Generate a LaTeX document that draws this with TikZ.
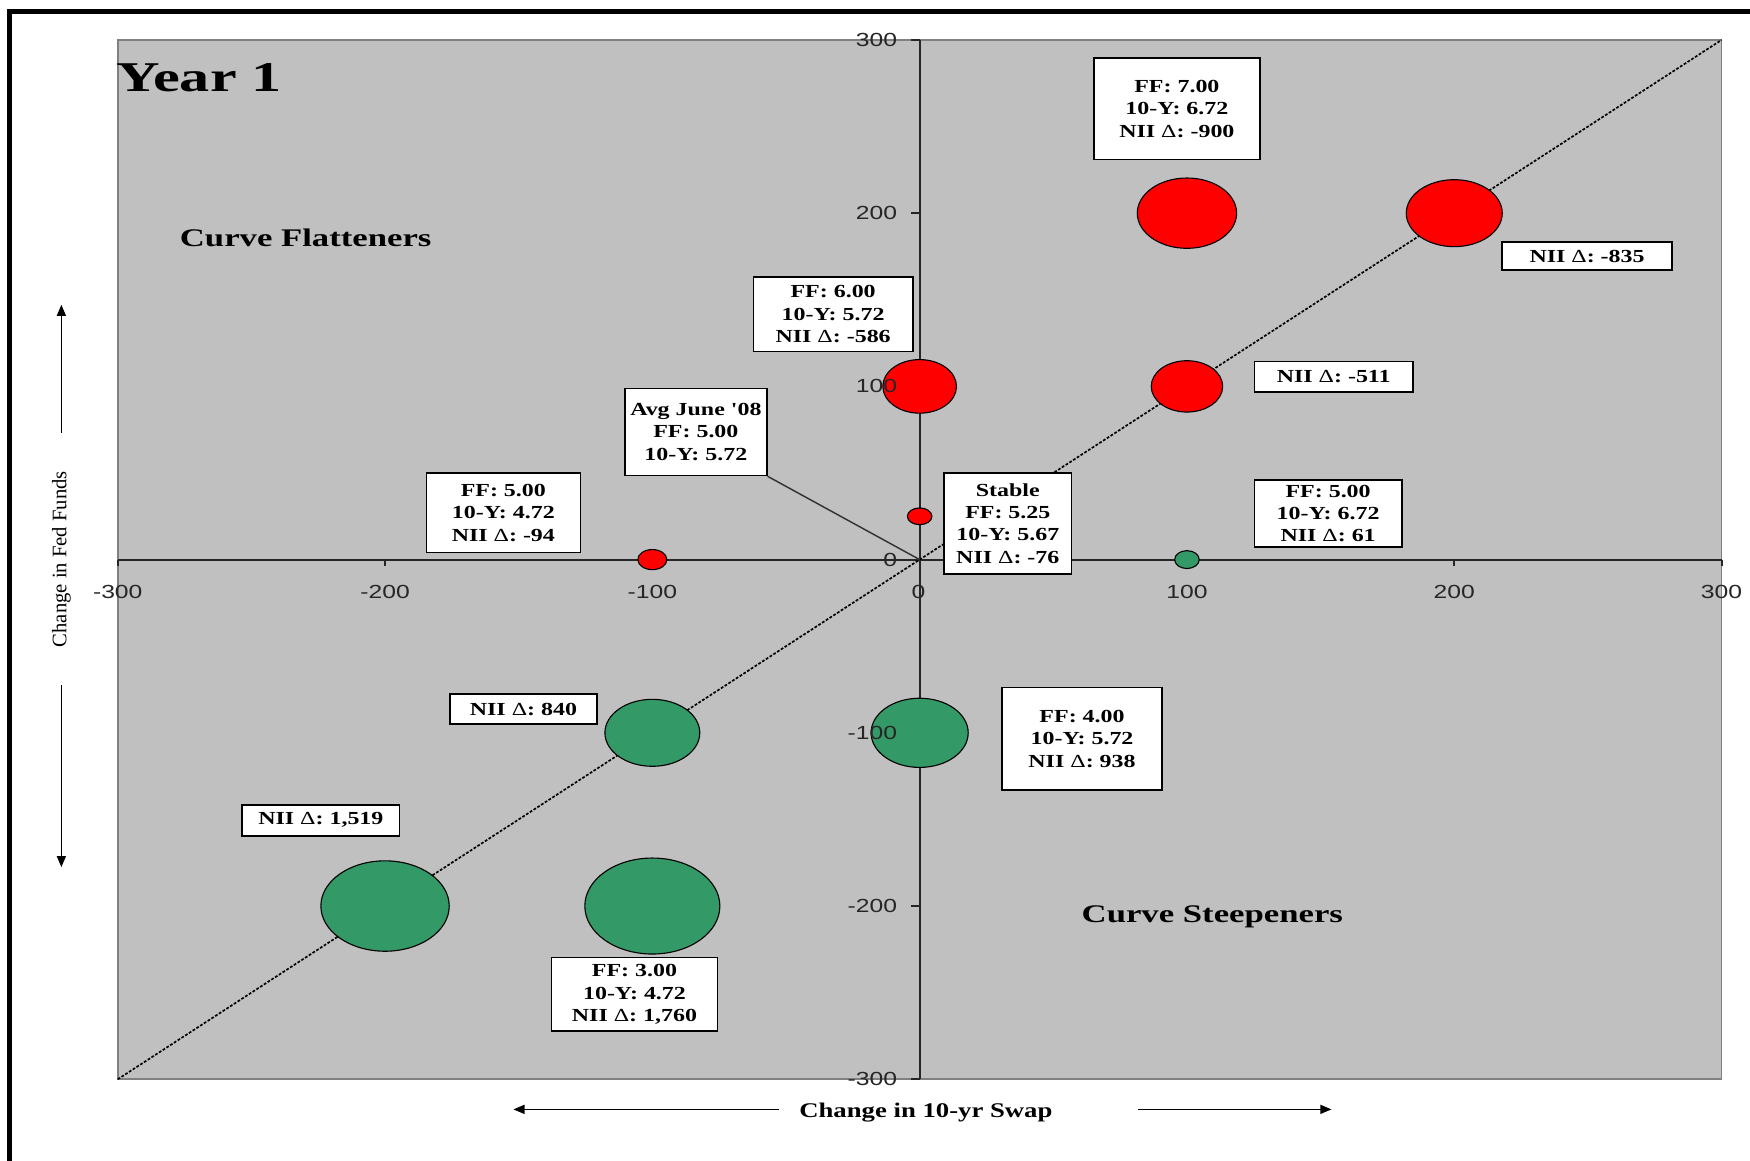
\documentclass[tikz,border=0pt]{standalone}
\usepackage{fontspec}
\setmainfont{Liberation Serif}
\newfontfamily\boxfont[FakeStretch=1.3]{Liberation Serif}
\newfontfamily\tickfont[FakeStretch=1.3]{Liberation Sans}
\newfontfamily\quadfont[FakeStretch=1.37]{Liberation Serif}
\newfontfamily\yearfont[FakeStretch=1.42]{Liberation Serif}
\newfontfamily\axfont[FakeStretch=1.28]{Liberation Serif}
\usetikzlibrary{shapes.geometric,arrows.meta}
\definecolor{plotgray}{HTML}{C0C0C0}
\definecolor{bubred}{HTML}{FF0000}
\definecolor{bubgreen}{HTML}{339966}
\definecolor{edgegray}{HTML}{808080}
\tikzset{
 lbl/.style={draw=black, fill=white, line width=1.5pt, align=center, inner sep=0pt,
   font=\boxfont\bfseries\fontsize{16.5}{20}\selectfont},
 bub/.style={ellipse, draw=black, line width=1pt, inner sep=0pt},
 redbub/.style={bub, fill=bubred},
 grnbub/.style={bub, fill=bubgreen},
 ticklbl/.style={font=\tickfont\fontsize{17}{20}\selectfont, text=black!85, inner sep=0pt},
 quad/.style={font=\quadfont\bfseries\fontsize{22.7}{26}\selectfont, inner sep=0pt},
 axline/.style={line width=1.8pt, black!85},
 axarrow/.style={line width=1.5pt, -{Triangle[length=10pt,width=8pt]}},
}
\newcommand{\dl}{{\mdseries Δ}}
\begin{document}
\begin{tikzpicture}[x=1pt,y=-1pt]
\useasboundingbox (0,0) rectangle (1568,1040);
\clip (0,0) rectangle (1568,1040);
\fill[white] (0,0) rectangle (1568,1040);
\draw[line width=4.5pt] (8.6,1100) -- (8.6,10) -- (1600,10);
% plot area
\draw[fill=plotgray, draw=edgegray, line width=1.5pt] (105.5,35.8) rectangle (1542.5,967);

\begin{scope}[shift={(824pt,-501.4pt)}, x=2.395pt, y=1.552pt]
  \coordinate (origin) at (0,0);
  \draw[axline] (-300,0) -- (300,0);
  \draw[axline] (0,-300) -- (0,300);
  \foreach \v in {-300,-200,...,300} {
     \draw[axline] (\v,0) -- ++(0pt,-6pt);
     \draw[axline] (0,\v) -- ++(-8pt,0pt);
  }
  \draw[dash pattern=on 2.5pt off 1.5pt, line width=1.5pt] (-300,-300) -- (300,300);
  % red bubbles
  \node[redbub, minimum width=89pt, minimum height=63pt] (r1) at (100,200) {};
  \node[redbub, minimum width=86pt, minimum height=60pt] (r2) at (200,200) {};
  \node[redbub, minimum width=66pt, minimum height=48pt] (r3) at (0,100) {};
  \node[redbub, minimum width=64pt, minimum height=46pt] (r4) at (100,100) {};
  \node[redbub, minimum width=22pt, minimum height=15pt] (r5) at (0,25) {};
  \node[redbub, minimum width=26pt, minimum height=18pt] (r6) at (-100,0) {};
  % green bubbles
  \node[grnbub, minimum width=22pt, minimum height=16pt] (g1) at (100,0) {};
  \node[grnbub, minimum width=87pt, minimum height=62pt] (g2) at (0,-100) {};
  \node[grnbub, minimum width=85pt, minimum height=60pt] (g3) at (-100,-100) {};
  \node[grnbub, minimum width=115pt, minimum height=81pt] (g4) at (-200,-200) {};
  \node[grnbub, minimum width=121pt, minimum height=86pt] (g5) at (-100,-200) {};
\end{scope}

% tick labels
\node[ticklbl] (xl1) at (105.5,530.5) {-300};
\node[ticklbl] (xl2) at (345,530.5) {-200};
\node[ticklbl] (xl3) at (584.5,530.5) {-100};
\node[ticklbl] (xl4) at (823,530.5) {0};
\node[ticklbl] (xl5) at (1063.5,530.5) {100};
\node[ticklbl] (xl6) at (1303,530.5) {200};
\node[ticklbl] (xl7) at (1542.5,530.5) {300};
\node[ticklbl, anchor=east] (yl1) at (804,35.8) {300};
\node[ticklbl, anchor=east] (yl2) at (804,191) {200};
\node[ticklbl, anchor=east] (yl3) at (804,346.2) {100};
\node[ticklbl, anchor=east] (yl4) at (804,501.4) {0};
\node[ticklbl, anchor=east] (yl5) at (804,656.6) {-100};
\node[ticklbl, anchor=east] (yl6) at (804,811.8) {-200};
\node[ticklbl, anchor=east] (yl7) at (804,967) {-300};

% label boxes
\node[lbl, minimum width=149pt, minimum height=91pt] (b900) at (1054.5,97.5) {FF: 7.00\\10-Y: 6.72\\NII \dl: -900};
\node[lbl, minimum width=152pt, minimum height=25pt] (b835) at (1422,229.5) {NII \dl: -835};
\node[lbl, minimum width=143pt, minimum height=67pt] (b586) at (746.5,281.5) {FF: 6.00\\10-Y: 5.72\\NII \dl: -586};
\node[lbl, minimum width=142pt, minimum height=27pt] (b511) at (1195,337.5) {NII \dl: -511};
\node[lbl, minimum width=127pt, minimum height=78pt] (bavg) at (623.5,387) {Avg June '08\\FF: 5.00\\10-Y: 5.72};
\node[lbl, minimum width=138pt, minimum height=71pt] (b94) at (451,459.5) {FF: 5.00\\10-Y: 4.72\\NII \dl: -94};
\node[lbl, minimum width=114pt, minimum height=90pt] (bstable) at (903,469) {Stable\\FF: 5.25\\10-Y: 5.67\\NII \dl: -76};
\node[lbl, minimum width=132pt, minimum height=60pt] (b61) at (1190,460) {FF: 5.00\\10-Y: 6.72\\NII \dl: 61};
\node[lbl, minimum width=132pt, minimum height=27pt] (b840) at (469,635.5) {NII \dl: 840};
\node[lbl, minimum width=143pt, minimum height=92pt] (b938) at (969.5,662) {FF: 4.00\\10-Y: 5.72\\NII \dl: 938};
\node[lbl, minimum width=141pt, minimum height=28pt] (b1519) at (287.5,735) {NII \dl: 1,519};
\node[lbl, minimum width=149pt, minimum height=66pt] (b1760) at (568.5,891) {FF: 3.00\\10-Y: 4.72\\NII \dl: 1,760};

% leader
\draw[black!80, line width=1.3pt] (bavg.south east) -- (origin);

% titles
\node[anchor=base west, inner sep=0pt, font=\yearfont\bfseries\fontsize{38}{40}\selectfont] (year) at (104,82) {Year 1};
\node[quad, anchor=base west] (cflat) at (161,221) {Curve Flatteners};
\node[quad, anchor=base west] (csteep) at (969,827) {Curve Steepeners};
\node[anchor=base west, inner sep=0pt, font=\axfont\bfseries\fontsize{18.7}{22}\selectfont] (xtitle) at (716,1001) {Change in 10-yr Swap};
\node[rotate=90, inner sep=0pt, font=\fontsize{18.5}{22}\selectfont] (ytitle) at (55,501) {Change in Fed Funds};

% axis arrows
\coordinate (xa1) at (698,994); \coordinate (xa2) at (460,994);
\coordinate (xb1) at (1020,994); \coordinate (xb2) at (1193,994);
\coordinate (ya1) at (55,388); \coordinate (ya2) at (55,273);
\coordinate (yb1) at (55,614); \coordinate (yb2) at (55,777);
\draw[axarrow] (xa1) -- (xa2);
\draw[axarrow] (xb1) -- (xb2);
\draw[axarrow] (ya1) -- (ya2);
\draw[axarrow] (yb1) -- (yb2);
\end{tikzpicture}
\end{document}
